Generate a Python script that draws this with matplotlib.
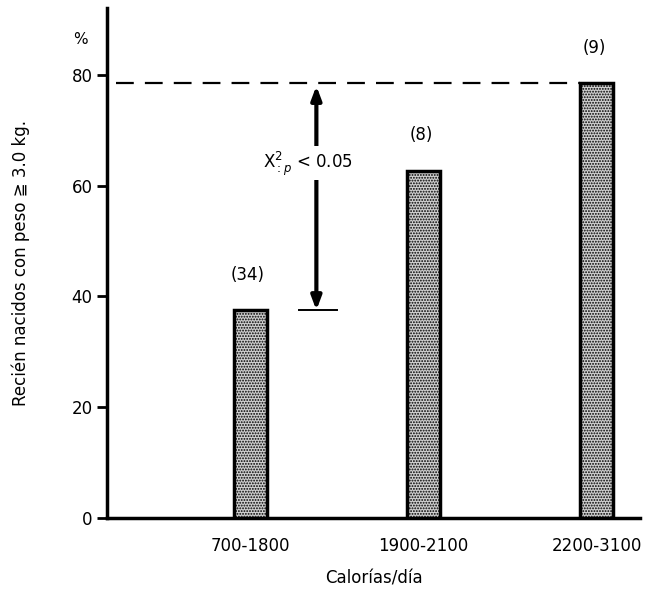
import matplotlib
matplotlib.use('Agg')
import matplotlib.pyplot as plt

categories = ['700-1800', '1900-2100', '2200-3100']
pct = [37.5, 62.7, 78.5]
counts = ['(34)', '(8)', '(9)']
yticks = [0, 20, 40, 60, 80]

plt.rcParams['font.family'] = ['DejaVu Sans']
plt.rcParams['hatch.linewidth'] = 0.9

fig = plt.figure(figsize=(6.45, 5.9), dpi=100)
ax = fig.add_axes([0.166, 0.122, 0.826, 0.864])

x = [1, 2, 3]
w = 0.19
ax.bar(x, pct, width=w, facecolor='#cfcfcf', edgecolor='black',
       linewidth=2.5, hatch='......', zorder=3)

for xi, v, c in zip(x, pct, counts):
    ax.annotate(c, (xi, v), textcoords='offset points', xytext=(-2, 19),
                ha='center', va='bottom', fontsize=12)

# dashed reference line at top bar
ax.plot([0.22, 3 - w / 2], [pct[2], pct[2]], ls=(0, (8, 5)), color='black', lw=1.6)

# arrow between first bar level and top level
ax_x = 1.38
ax.annotate('', xy=(ax_x, pct[2] - 0.5), xytext=(ax_x, pct[0]),
            arrowprops=dict(arrowstyle='<|-|>,head_length=0.8,head_width=0.3',
                            lw=3, color='black', shrinkA=0, shrinkB=0))
ax.plot([ax_x - 0.1, ax_x + 0.12], [pct[0], pct[0]], color='black', lw=1.4)
ax.text(ax_x - 0.05, 64, r'X$^{2}_{:p}$ < 0.05', ha='center', va='center', fontsize=12,
        bbox=dict(facecolor='white', edgecolor='none', pad=2), zorder=4)

ax.set_xlim(0.17, 3.25)
ax.set_ylim(0, 92)
ax.set_yticks(yticks)
ax.set_xticks(x)
ax.set_xticklabels(categories, fontsize=12)
ax.tick_params(axis='y', labelsize=12, length=7, width=2)
ax.tick_params(axis='x', length=0, pad=14)

for s in ['top', 'right']:
    ax.spines[s].set_visible(False)
for s in ['left', 'bottom']:
    ax.spines[s].set_linewidth(2.5)

ax.set_xlabel('Calorías/día', fontsize=12, labelpad=10)
ax.set_ylabel('Recién nacidos con peso ≧ 3.0 kg.', fontsize=12, labelpad=30)
ax.text(-0.05, 0.93, '%', transform=ax.transAxes, fontsize=11, ha='center')

plt.savefig('out.png', dpi=100)
